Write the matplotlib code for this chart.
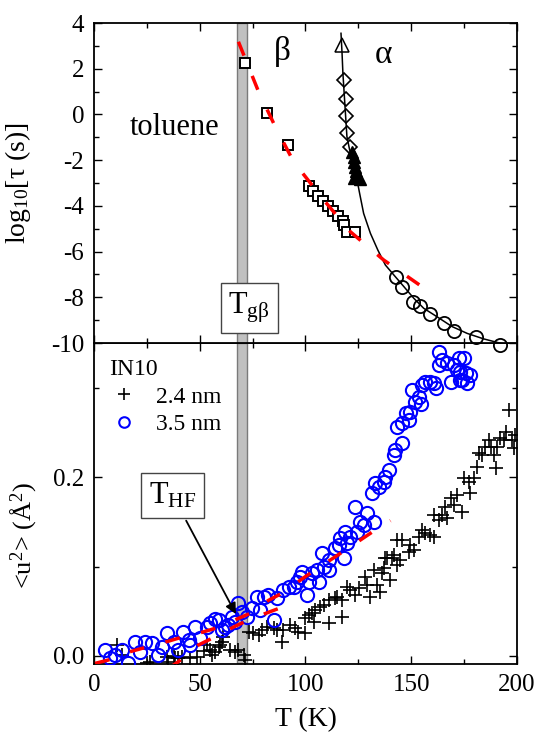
import matplotlib
matplotlib.use("Agg")
import matplotlib.pyplot as plt
from matplotlib.ticker import MultipleLocator

plt.rcParams["font.family"] = ["Liberation Serif", "DejaVu Serif"]
plt.rcParams["mathtext.fontset"] = "custom"
plt.rcParams["mathtext.rm"] = "Liberation Serif"
plt.rcParams["mathtext.it"] = "Liberation Serif:italic"
plt.rcParams["axes.unicode_minus"] = False

# ---- panel superior: tiempos de relajacion ----
T_beta = [71.5, 81.8, 91.7, 101.8, 103.4, 105.7, 108.1, 110.5, 112.8, 115.2, 117.6, 118.4, 119.6, 123.3]
log_beta = [2.26, 0.08, -1.34, -3.13, -3.33, -3.55, -3.79, -3.99, -4.21, -4.43, -4.65, -4.84, -5.16, -5.16]

T_beta_fit = [68.3, 77.8, 85.7, 94.4, 108.6, 121.2, 137.0, 154.4]
log_beta_fit = [3.18, 1.0, -0.53, -2.07, -3.74, -5.13, -6.37, -7.49]

T_alpha_fit = [116.8, 117.3, 117.7, 118.4, 119.0, 119.6, 120.9, 122.8, 124.4, 125.6, 127.5, 130.7,
               134.2, 137.8, 142.5, 146.5, 151.2, 155.9, 162.2, 169.3, 176.5, 184.3, 192.2, 201.7]
log_alpha_fit = [3.55, 2.67, 1.80, 0.78, -0.10, -0.97, -1.56, -2.14, -2.87, -3.45, -4.33, -5.20,
                 -5.93, -6.59, -7.10, -7.53, -8.04, -8.48, -8.85, -9.28, -9.58, -9.82, -10.01, -10.2]

T_diam = [118.1, 119.3, 119.3, 119.6, 120.9]
log_diam = [1.51, 0.68, -0.05, -0.83, -1.41]

T_tri = [122.0, 122.8, 123.1, 123.5, 124.0, 124.6, 125.6, 122.8]
log_tri = [-1.63, -1.85, -2.07, -2.28, -2.46, -2.65, -2.82, -2.80]

T_tri_open = [117.3]
log_tri_open = [3.04]

T_circ = [143.0, 145.7, 150.9, 154.0, 158.8, 165.4, 170.1, 180.4, 192.2]
log_circ = [-7.13, -7.53, -8.19, -8.38, -8.74, -9.11, -9.47, -9.72, -10.09]

# ---- panel inferior: desplazamiento cuadratico medio (IN10) ----
T_35 = [5.2, 7.6, 9.9, 13.1, 16.3, 19.4, 21.8, 24.1, 27.3, 30.5,
        32.0, 34.4, 37.6, 39.9, 42.3, 44.7, 45.5, 47.8, 50.2, 53.3,
        54.9, 57.3, 58.9, 60.4, 62.0, 63.6, 65.2, 66.8, 68.3, 69.9,
        72.3, 74.7, 77.0, 78.6, 80.2, 82.5, 84.9, 86.5, 89.6, 92.0,
        94.4, 96.0, 97.5, 98.3, 100.7, 101.5, 103.1, 105.4, 106.2, 107.8,
        108.6, 111.0, 111.0, 114.1, 115.7, 118.1, 116.5, 118.8, 119.6, 121.2,
        123.6, 124.4, 125.9, 127.5, 129.1, 131.5, 132.3, 133.0, 134.6, 137.0,
        137.8, 139.4, 141.7, 142.5, 145.7, 143.3, 145.7, 147.3, 148.8, 149.6,
        150.4, 152.0, 153.6, 155.1, 156.7, 159.1, 161.5, 163.0, 163.0, 164.6,
        167.0, 168.6, 170.1, 171.7, 172.5, 174.1, 174.9, 175.7, 176.5, 178.0,
        173.3, 173.3, 154.4, 160.7]
u_35 = [0.0062, -0.0032, 0.0006, 0.0062, -0.0081, 0.0155, 0.0043, 0.0155, 0.0137, 0.0006,
        0.0099, 0.0249, 0.0155, 0.0062, 0.0268, 0.0174, 0.0118, 0.0324, 0.0193, 0.0324,
        0.0361, 0.0406, 0.0399, 0.0287, 0.0316, 0.0343, 0.0429, 0.0380, 0.0586, 0.0493,
        0.0436, 0.0530, 0.0661, 0.0511, 0.0661, 0.0680, 0.0399, 0.0642, 0.0736, 0.0773,
        0.0773, 0.0830, 0.0886, 0.0942, 0.0680, 0.0830, 0.0923, 0.0961, 0.0830, 0.1148,
        0.0998, 0.0961, 0.1073, 0.1204, 0.1242, 0.1092, 0.1317, 0.1391, 0.1260, 0.1335,
        0.1672, 0.1391, 0.1504, 0.1466, 0.1597, 0.1822, 0.1504, 0.1934, 0.1897, 0.1953,
        0.2010, 0.2084, 0.2253, 0.2309, 0.2384, 0.2571, 0.2609, 0.2721, 0.2646, 0.2740,
        0.2983, 0.2852, 0.2908, 0.3040, 0.3077, 0.3077, 0.3002, 0.3414, 0.3264, 0.3321,
        0.3283, 0.3077, 0.3264, 0.3208, 0.3339, 0.3096, 0.3339, 0.3170, 0.3058, 0.3152,
        0.3096, 0.3189, 0.2830, 0.3058]

T_24 = [10.7, 13.1, 24.9, 35.2, 37.6, 39.9, 41.5, 45.5, 48.6, 51.8,
        53.3, 55.7, 57.3, 58.9, 60.4, 61.2, 64.4, 66.8, 68.3, 70.7,
        73.1, 75.4, 77.8, 79.4, 81.8, 84.9, 86.5, 88.9, 89.6, 92.8,
        95.2, 96.7, 99.9, 99.9, 101.5, 103.1, 103.9, 104.6, 107.0, 108.6,
        111.0, 111.0, 114.1, 114.9, 117.3, 117.3, 119.6, 121.2, 123.6, 125.2,
        128.3, 129.1, 130.7, 132.3, 133.8, 135.4, 136.2, 137.0, 137.8, 138.6,
        140.2, 140.9, 141.7, 143.3, 143.3, 144.9, 145.7, 148.8, 149.6, 151.2,
        153.6, 155.1, 156.7, 159.1, 160.7, 160.7, 163.0, 164.6, 167.0, 166.2,
        168.6, 170.1, 171.7, 174.1, 174.9, 177.2, 178.0, 179.6, 181.2, 182.0,
        183.6, 185.1, 186.7, 187.5, 189.1, 189.9, 190.7, 192.2, 193.8, 194.6,
        196.2, 197.8, 198.6, 199.3,
        34.4, 38.4, 54.9, 59.7, 71.5, 26.5]
u_24 = [0.0118, 0.0006, -0.0081, -0.0069, -0.0006, -0.0032, -0.0013, -0.0032, -0.0013, 0.0054,
        0.0118, 0.0006, 0.0043, 0.0099, 0.0155, 0.0212, 0.0062, 0.0043, 0.0062, 0.0006,
        0.0268, 0.0249, 0.0230, 0.0287, 0.0324, 0.0305, 0.0287, 0.0155, 0.0287, 0.0343,
        0.0305, 0.0268, 0.0249, 0.0418, 0.0455, 0.0474, 0.0380, 0.0511, 0.0549, 0.0567,
        0.0361, 0.0624, 0.0642, 0.0661, 0.0624, 0.0436, 0.0773, 0.0736, 0.0680, 0.0755,
        0.0886, 0.0792, 0.0661, 0.0961, 0.0792, 0.0717, 0.0923, 0.0980, 0.1092, 0.1092,
        0.0848, 0.1092, 0.1129, 0.1017, 0.1298, 0.1073, 0.1298, 0.1167, 0.1242, 0.1185,
        0.1335, 0.1410, 0.1373, 0.1354, 0.1335, 0.1579, 0.1522, 0.1579, 0.1541, 0.1672,
        0.1766, 0.1691, 0.1803, 0.1616, 0.1991, 0.1953, 0.1822, 0.1991, 0.2122, 0.2272,
        0.2253, 0.2346, 0.2421, 0.2346, 0.2253, 0.2103, 0.2346, 0.2440, 0.2421, 0.2515,
        0.2758, 0.2421, 0.2328, 0.2478,
        -0.0013, -0.0030, 0.0062, 0.0118, -0.0050, -0.0069]

T_fit_35 = [0.5, 6.8, 17.0, 23.4, 33.6, 39.9, 50.2, 56.5, 67.6, 73.9, 82.5, 88.9, 99.9, 107.0,
            116.5, 123.6, 133.0, 140.2]
u_fit_35 = [-0.0088, -0.0050, 0.0043, 0.0085, 0.0150, 0.0195, 0.0255, 0.0300, 0.0410, 0.0475,
            0.0620, 0.0700, 0.0886, 0.0998, 0.1148, 0.1260, 0.1410, 0.1515]

T_fit_24 = [35.2, 39.9, 49.4, 55.7, 66.8, 73.1, 83.3, 89.6]
u_fit_24 = [-0.0144, -0.0069, 0.0118, 0.0193, 0.0330, 0.0400, 0.0493, 0.0549]

# banda de Tg beta
banda = (67.6, 72.3)

rojo_dash = (0, (4.3, 6.3))


def estilo(ax):
    ax.tick_params(which="both", direction="in", top=True, right=True, width=1, labelsize=18)
    ax.tick_params(which="major", length=5.5, pad=7)
    ax.tick_params(which="minor", length=3.5)
    for s in ax.spines.values():
        s.set_linewidth(1.3)
    ax.set_xlim(0, 200)
    ax.xaxis.set_major_locator(MultipleLocator(50))
    ax.xaxis.set_minor_locator(MultipleLocator(25))


fig = plt.figure(figsize=(5.42, 7.42), dpi=100)
ax1 = fig.add_axes([0.1734, 0.5377, 0.7804, 0.4313])
ax2 = fig.add_axes([0.1734, 0.1051, 0.7804, 0.4326])
ax1.set_zorder(2)

# panel superior
estilo(ax1)
ax1.set_ylim(-10, 4)
ax1.yaxis.set_major_locator(MultipleLocator(2))
ax1.yaxis.set_minor_locator(MultipleLocator(1))
ax1.tick_params(labelbottom=False)
ax1.axvspan(*banda, fc="#c0c0c0", ec="#7a7a7a", lw=1, zorder=0)
ax1.plot(T_alpha_fit, log_alpha_fit, "k-", lw=1.1, zorder=2)
ax1.plot(T_beta, log_beta, "s", ms=6.5, mfc="white", mec="k", mew=1.4, zorder=3)
ax1.plot(T_beta_fit, log_beta_fit, color="red", lw=2.5, ls=rojo_dash, zorder=4)
ax1.plot(T_diam, log_diam, "D", ms=7.5, mfc="none", mec="k", mew=1.2, zorder=3)
ax1.plot(T_tri, log_tri, "^", ms=8.5, color="k", zorder=3)
ax1.plot(T_tri_open, log_tri_open, "^", ms=10, mfc="none", mec="k", mew=1.1, zorder=3)
ax1.plot(T_circ, log_circ, "o", ms=9.5, mfc="none", mec="k", mew=1.3, zorder=3, clip_on=False)
ax1.set_ylabel(r"log$_{10}$[τ (s)]", fontsize=20)
ax1.yaxis.set_label_coords(-0.145, 0.5)
ax1.text(38.1, -0.59, "toluene", fontsize=22, ha="center", va="center")
ax1.text(88.9, 2.75, "β", fontsize=24, ha="center", va="center")
ax1.text(137.0, 2.6, "α", fontsize=24, ha="center", va="center")
ax1.text(73.4, -8.45, r"$\mathrm{T_{g\beta}}$", fontsize=22, ha="center", va="center", zorder=5,
         bbox=dict(boxstyle="square,pad=0.25", fc="white", ec="#444444", lw=1))

# panel inferior
estilo(ax2)
ax2.set_ylim(-0.0095, 0.351)
ax2.yaxis.set_major_locator(MultipleLocator(0.2))
ax2.yaxis.set_minor_locator(MultipleLocator(0.1))
ax2.yaxis.set_major_formatter(matplotlib.ticker.FormatStrFormatter("%.1f"))
ax2.axvspan(*banda, ymin=0.004, fc="#c0c0c0", ec="#7a7a7a", lw=1, zorder=0)
mas, = ax2.plot(T_24, u_24, "+", ms=10, mew=1.2, color="k", ls="none", zorder=2, label="2.4 nm")
circ, = ax2.plot(T_35, u_35, "o", ms=9.5, mfc="none", mec="#0000ff", mew=1.5, ls="none", zorder=3,
                 label="3.5 nm")
ax2.plot(T_fit_35, u_fit_35, color="red", lw=2.5, ls=rojo_dash, zorder=4)
ax2.plot(T_fit_24, u_fit_24, color="red", lw=2.5, ls=rojo_dash, zorder=4)
ax2.set_xlabel("T (K)", fontsize=20, labelpad=8)
ax2.set_ylabel("<u$^{2}$> (Å$^{2}$)", fontsize=19)
ax2.yaxis.set_label_coords(-0.13, 0.40)
ax2.annotate(r"$\mathrm{T_{HF}}$", xy=(67.1, 0.0466), xytext=(37.2, 0.180), fontsize=22,
             ha="center", va="center", zorder=6,
             bbox=dict(boxstyle="square,pad=0.25", fc="white", ec="#444444", lw=1),
             arrowprops=dict(arrowstyle="-|>", color="k", lw=1.3, mutation_scale=16, shrinkB=0))
leg = ax2.legend(handles=[mas, circ], title="IN10", loc="upper left", bbox_to_anchor=(0.035, 0.95),
                 frameon=False, fontsize=17, title_fontsize=17, alignment="left", borderpad=0,
                 borderaxespad=0, handlelength=1.3, handletextpad=0.7, labelspacing=0.25,
                 markerscale=0.8)

fig.savefig("out.png", dpi=100)
